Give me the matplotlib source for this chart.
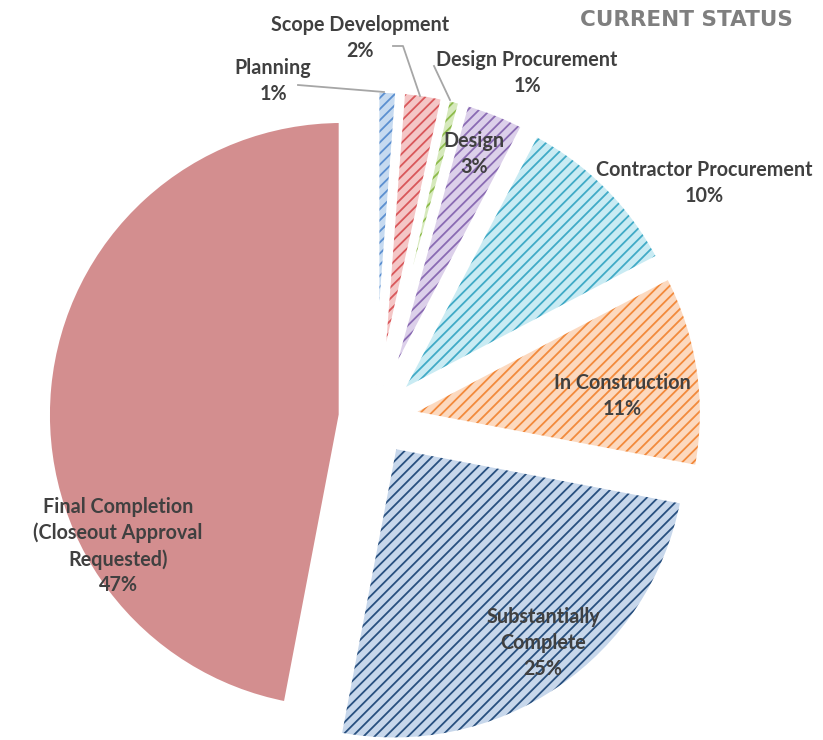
import matplotlib
matplotlib.use('Agg')
import matplotlib.pyplot as plt

# data (percent shares; labels show the rounded values)
stages = ['Planning', 'Scope Development', 'Design Procurement', 'Design',
          'Contractor Procurement', 'In Construction',
          'Substantially Complete', 'Final Completion (Closeout Approval Requested)']
shares = [1.2, 2.3, 0.8, 3.4, 9.6, 10.7, 25.0, 47.0]
label_text = ['Planning\n1%', 'Scope Development\n2%', 'Design Procurement\n1%',
              'Design\n3%', 'Contractor Procurement\n10%', 'In Construction\n11%',
              'Substantially\nComplete\n25%',
              'Final Completion\n(Closeout Approval\nRequested)\n47%']

fill_colors = ['#C6DAF0', '#F4C6C6', '#D6E9BC', '#DCD0EA', '#C9EBF3', '#FCD9BF', '#C7D7EB', '#D38E8F']
line_colors = ['#5B8FD0', '#D9575A', '#8DBB4A', '#8A6BB3', '#40AAC6', '#F28A3C', '#28507F', '#D38E8F']
hatches = ['///'] * 7 + [None]

W, H = 823, 740
R = 295.0          # pie radius in pixels
CX, CY = 375, 418  # pie centre in pixels (from top-left)

def px(x, y):
    return ((x - CX) / R, (CY - y) / R)

plt.rcParams['hatch.linewidth'] = 1.3
plt.rcParams['font.family'] = ['Lato', 'DejaVu Sans']

fig = plt.figure(figsize=(W / 100, H / 100), dpi=100)
ax = fig.add_axes([0, 0, 1, 1])

explode = [0.113] * len(shares)
wedges, _ = ax.pie(shares, startangle=90, counterclock=False, explode=explode,
                   radius=1, center=(0, 0), frame=True, normalize=True)
for w, fc, lc, h in zip(wedges, fill_colors, line_colors, hatches):
    w.set_facecolor(fc)
    w.set_edgecolor(lc)
    w.set_linewidth(0)
    if h:
        w.set_hatch(h)

# white borders round every slice
borders, _ = ax.pie(shares, startangle=90, counterclock=False, explode=explode,
                    radius=1, center=(0, 0), frame=True, normalize=True,
                    wedgeprops=dict(fill=False, edgecolor='white', linewidth=4.5))
ax.set_xlim(-CX / R, (W - CX) / R)
ax.set_ylim(-(H - CY) / R, CY / R)
ax.set_aspect('auto')
ax.axis('off')

# labels (pixel positions of the text centres)
label_pos = [(273, 81), (360, 38), (527, 73), (474, 154), (704, 183),
             (622, 396), (543, 643), (118, 546)]
for txt, (x, y) in zip(label_text, label_pos):
    ax.text(*px(x, y), txt, ha='center', va='center', fontsize=14.2,
            fontweight='bold', color='#404040', linespacing=1.36)

# leader lines
leaders = [[(298, 85), (384, 92)],
           [(393, 46), (403, 46), (420, 96)],
           [(434, 66), (450, 100)]]
for pts in leaders:
    xs, ys = zip(*[px(x, y) for x, y in pts])
    ax.plot(xs, ys, color='#A6A6A6', lw=1.3)

fig.text(793 / W, 1 - 20 / H, 'CURRENT STATUS', ha='right', va='center',
         fontsize=15.5, fontweight='bold', color='#7F7F7F', family='DejaVu Sans')

fig.savefig('out.png', dpi=100)
